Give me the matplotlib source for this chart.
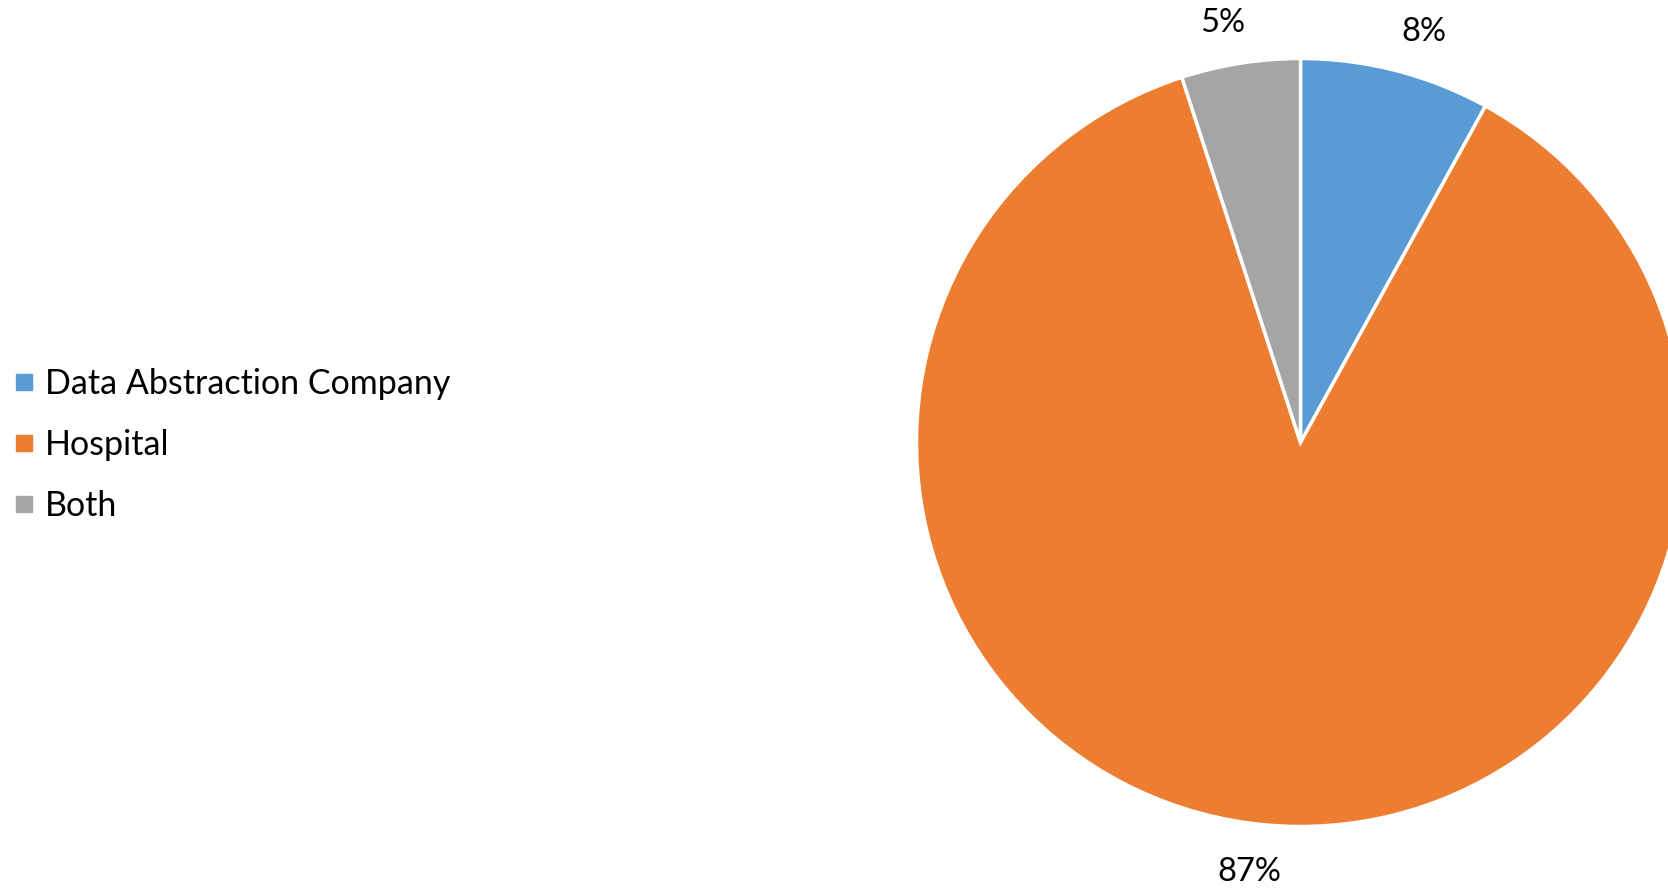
import matplotlib
matplotlib.use("Agg")
import matplotlib.pyplot as plt
from matplotlib.lines import Line2D

categories = ["Data Abstraction Company", "Hospital", "Both"]
values = [8, 87, 5]
colors = ["#5B9BD5", "#ED7D31", "#A5A5A5"]

plt.rcParams['font.family'] = ['Lato', 'DejaVu Sans']

W, H = 1668, 892
fig = plt.figure(figsize=(W / 100, H / 100), dpi=100)
cx, cy, r = 1300.5, 442.5, 384
ax = fig.add_axes([(cx - r) / W, (H - cy - r) / H, 2 * r / W, 2 * r / H])
wedges, texts = ax.pie(values, colors=colors, startangle=90, counterclock=False,
                       labels=[f"{v}%" for v in values], labeldistance=1.115,
                       wedgeprops=dict(edgecolor="white", linewidth=2.5),
                       textprops=dict(fontsize=23.5, color="black"))
# small best-fit label nudges (data units)
nudges = [(0.044, -0.011), (-0.028, -0.008), (-0.028, -0.008)]
for t, (dx, dy) in zip(texts, nudges):
    x, y = t.get_position()
    t.set_position((x + dx, y + dy))
    t.set_horizontalalignment("center")
    t.set_verticalalignment("center")
    t.set_clip_on(False)
ax.set_xlim(-1, 1)
ax.set_ylim(-1, 1)
ax.set_aspect("equal")
ax.axis("off")

handles = [Line2D([], [], marker="s", linestyle="none", markersize=11.5,
                  markerfacecolor=c, markeredgecolor=c) for c in colors]
leg = fig.legend(handles, categories, loc="center left",
                 bbox_to_anchor=(0.0, (H - 445) / H), frameon=False,
                 fontsize=24.5, handlelength=0.6, handletextpad=0.32,
                 labelspacing=0.85, borderaxespad=0.0, borderpad=0.4)

fig.savefig("out.png", dpi=100)
